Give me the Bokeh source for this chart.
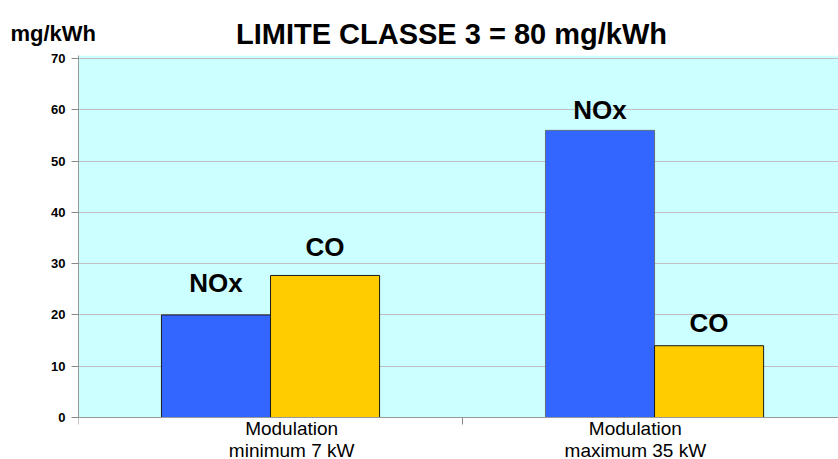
import numpy as np
from bokeh.plotting import figure
from bokeh.layouts import column
from bokeh.models import Range1d, FixedTicker, ColumnDataSource, BoxAnnotation
from bokeh.core.properties import value
from bokeh.embed import file_html
from bokeh.resources import INLINE

# Emission data per operating point (mg/kWh)
groups = ["Modulation\nminimum 7 kW", "Modulation\nmaximum 35 kW"]
nox = [20, 56]
co = [27.7, 14]
series_names = ["NOx", "CO"]
y_ticks = [0, 10, 20, 30, 40, 50, 60, 70]
title_text = "LIMITE CLASSE 3 = 80 mg/kWh"
unit_text = "mg/kWh"

FONT = "Liberation Sans"
BLUE = "#3366FF"
YELLOW = "#FFCC00"
BG = "#CCFFFF"
W = 838
HEAD_H = 50
Y_TOP = 70.6
Y_BOTTOM = -8.19   # white strip under the zero line holds the group names

# ---- heading strip: unit and limit title ----
head = figure(width=W, height=HEAD_H, output_backend="svg", toolbar_location=None,
              x_range=Range1d(0, W), y_range=Range1d(0, HEAD_H),
              min_border=0, x_axis_location=None, y_axis_location=None,
              outline_line_color=None, background_fill_color="white",
              border_fill_color="white")
head.frame_align = False
head.grid.visible = False
head.text(x=[10], y=[17.5], text=[unit_text], text_align="left",
          text_baseline="middle", text_font=value(FONT),
          text_font_style="bold", text_font_size="22px", text_color="black")
head.text(x=[451], y=[16.5], text=[title_text], text_align="center",
          text_baseline="middle", text_font=value(FONT),
          text_font_style="bold", text_font_size="29px", text_color="black")

# ---- bar chart ----
p = figure(width=W, height=459 - HEAD_H, output_backend="svg", toolbar_location=None,
           x_range=Range1d(0, 1.979), y_range=Range1d(Y_BOTTOM, Y_TOP),
           x_axis_location="above",
           min_border_left=78, min_border_right=0, min_border_top=5,
           min_border_bottom=0, background_fill_color="white",
           border_fill_color="white", outline_line_color=None)
p.frame_align = False

# plot area colour above the zero line
p.add_layout(BoxAnnotation(bottom=0, fill_color=BG, fill_alpha=1,
                           line_color=None, level="image"))

centers = np.arange(len(groups)) + 0.5
half = 0.142
bw = 0.284

nox_src = ColumnDataSource(dict(x=centers - half, top=nox,
                                line=["#1a1a1a", "#607080"]))
co_src = ColumnDataSource(dict(x=centers + half, top=co))

p.vbar(x="x", top="top", bottom=0, width=bw, source=nox_src, fill_color=BLUE,
       line_color="line", line_width=1)
p.vbar(x="x", top="top", bottom=0, width=bw, source=co_src, fill_color=YELLOW,
       line_color="#1a1a1a", line_width=1)

# Series name above each bar
name_gap_nox = [-32, -20]
name_gap_co = [-28, -23]
for xs, vals, gaps, name in [(centers - half, nox, name_gap_nox, series_names[0]),
                             (centers + half, co, name_gap_co, series_names[1])]:
    for xv, yv, g in zip(xs, vals, gaps):
        p.text(x=[xv], y=[yv], text=[name], y_offset=g,
               text_align="center", text_baseline="middle",
               text_font=value(FONT), text_font_style="bold",
               text_font_size="26px", text_color="black")

# Group names under the zero line
cat_pos = [0.555, 1.45]
p.text(x=cat_pos, y=[0, 0], text=groups, y_offset=0,
       text_align="center", text_baseline="top", text_font=value(FONT),
       text_font_size="19px", text_color="black", text_line_height=1.08)

# Y axis
p.yaxis.ticker = FixedTicker(ticks=y_ticks)
p.yaxis.bounds = (0, Y_TOP)
p.yaxis.major_label_text_font = FONT
p.yaxis.major_label_text_font_style = "bold"
p.yaxis.major_label_text_font_size = "13px"
p.yaxis.major_label_text_color = "black"
p.yaxis.major_label_standoff = 6
p.yaxis.major_tick_out = 7
p.yaxis.major_tick_in = 0
p.yaxis.minor_tick_line_color = None
p.yaxis.axis_line_color = "#999999"
p.yaxis.major_tick_line_color = "#888888"

# X axis drawn on the zero line: group separators hang below it
p.xaxis.fixed_location = 0
p.xaxis.ticker = FixedTicker(ticks=[0, 1, 2])
p.xaxis.major_label_overrides = {0: "", 1: "", 2: ""}
p.xaxis.major_tick_out = 0
p.xaxis.major_tick_in = 7
p.xaxis.minor_tick_line_color = None
p.xaxis.major_tick_line_color = "#888888"
p.xaxis.axis_line_color = "#999999"
p.xaxis.major_label_text_font_size = "1px"
p.xaxis.major_label_standoff = 0

p.xgrid.grid_line_color = None
p.ygrid.ticker = FixedTicker(ticks=y_ticks)
p.ygrid.grid_line_color = "#C0C0C0"

layout = column(head, p, spacing=0)
open("out.html", "w").write(file_html(layout, INLINE))
